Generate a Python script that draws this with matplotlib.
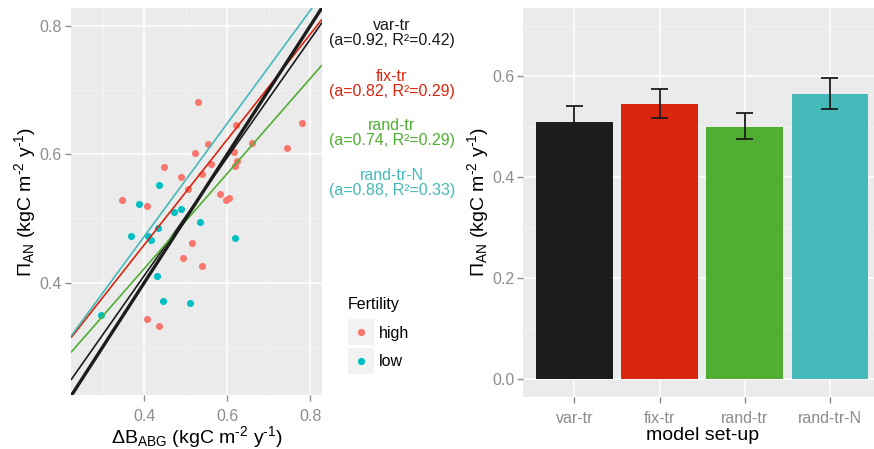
import numpy as np
import matplotlib
matplotlib.use('Agg')
import matplotlib.pyplot as plt
from matplotlib.lines import Line2D
from matplotlib.patches import Rectangle
from matplotlib.ticker import MultipleLocator

plt.rcParams['font.family'] = ['Liberation Sans', 'DejaVu Sans']
plt.rcParams['mathtext.fontset'] = 'custom'
plt.rcParams['mathtext.rm'] = 'Liberation Sans'
plt.rcParams['mathtext.it'] = 'Liberation Sans:italic'

# scatter data: delta B_ABG vs Pi_AN, by fertility class
high_x = [0.530, 0.780, 0.620, 0.660, 0.744, 0.553, 0.522, 0.615, 0.623, 0.619,
          0.561, 0.447, 0.540, 0.488, 0.506, 0.583, 0.603, 0.597, 0.347, 0.407,
          0.515, 0.494, 0.540, 0.407, 0.435]
high_y = [0.681, 0.649, 0.646, 0.617, 0.610, 0.616, 0.602, 0.604, 0.590, 0.582,
          0.585, 0.580, 0.569, 0.564, 0.546, 0.538, 0.532, 0.528, 0.528, 0.519,
          0.462, 0.438, 0.426, 0.344, 0.333]
low_x = [0.435, 0.386, 0.488, 0.472, 0.534, 0.432, 0.369, 0.408, 0.618, 0.415,
         0.431, 0.445, 0.510, 0.296]
low_y = [0.552, 0.523, 0.514, 0.510, 0.495, 0.485, 0.472, 0.473, 0.470, 0.466,
         0.411, 0.372, 0.369, 0.350]
fertility = ['high', 'low']

# regression fits per model set-up
models = ['var-tr', 'fix-tr', 'rand-tr', 'rand-tr-N']
slope = [0.92, 0.82, 0.74, 0.88]
intercept = [0.043, 0.131, 0.126, 0.120]
r2 = [0.42, 0.29, 0.29, 0.33]

# bar chart: mean Pi_AN with error bars
bar_mean = [0.508, 0.545, 0.500, 0.565]
err_low = [0.475, 0.517, 0.475, 0.535]
err_high = [0.541, 0.574, 0.526, 0.596]

model_colors = ['#1c1c1c', '#da2510', '#50ae32', '#45b9b9']
pt_colors = ['#f8766d', '#00bfc4']
bg = '#ebebeb'
tick_grey = '#8c8c8c'

W, H = 874, 449
fig = plt.figure(figsize=(W/100, H/100), dpi=100)

def px_axes(l, t, r, b):
	return fig.add_axes([l/W, 1-b/H, (r-l)/W, (b-t)/H])

def style(ax):
	ax.set_facecolor(bg)
	for s in ax.spines.values():
		s.set_visible(False)
	ax.grid(which='major', color='white', lw=1.1)
	ax.grid(which='minor', color='#f4f4f4', lw=0.6)
	ax.set_axisbelow(True)
	ax.tick_params(which='major', colors=tick_grey, labelcolor=tick_grey, labelsize=11.5, length=4, width=1, pad=2.5)
	ax.tick_params(axis='x', which='major', pad=6)
	ax.tick_params(which='minor', length=0)

ylab = r'$\Pi_{\mathrm{AN}}$ (kgC m$^{\text{-2}}$ y$^{\text{-1}}$)'

### left panel
ax1 = px_axes(71, 8, 322, 395)
style(ax1)
ax1.set_xlim(0.2234, 0.828)
ax1.set_ylim(0.225, 0.8275)
ax1.xaxis.set_major_locator(MultipleLocator(0.2))
ax1.yaxis.set_major_locator(MultipleLocator(0.2))
ax1.xaxis.set_minor_locator(MultipleLocator(0.1))
ax1.yaxis.set_minor_locator(MultipleLocator(0.1))
ax1.xaxis.set_major_formatter(matplotlib.ticker.FormatStrFormatter('%.1f'))
ax1.yaxis.set_major_formatter(matplotlib.ticker.FormatStrFormatter('%.1f'))

ax1.scatter(high_x, high_y, s=26, color=pt_colors[0], lw=0, zorder=3)
ax1.scatter(low_x, low_y, s=26, color=pt_colors[1], lw=0, zorder=3)

xs = np.array(ax1.get_xlim())
for i, m in enumerate(models):
	ax1.plot(xs, slope[i]*xs + intercept[i], color=model_colors[i], lw=1.2, zorder=4, solid_capstyle='butt')
ax1.plot(xs, xs, color='#1c1c1c', lw=2.4, zorder=4)  # 1:1 line
ax1.set_xlim(xs)

ax1.set_xlabel(r'$\Delta\mathrm{B}_{\mathrm{ABG}}$ (kgC m$^{\text{-2}}$ y$^{\text{-1}}$)', fontsize=14, labelpad=0)
ax1.set_ylabel(ylab, fontsize=14, labelpad=1)

# fit annotations
ann_y = [33, 84, 133, 183]
for i, m in enumerate(models):
	fig.text(391.7/W, 1-ann_y[i]/H, '%s\n(a=%.2f, R²=%.2f)' % (m, slope[i], r2[i]),
			 ha='center', va='center', fontsize=11.5, color=model_colors[i], linespacing=1.05)

# fertility legend
handles = [Line2D([0], [0], marker='o', ls='None', color=c, markersize=5.2, markeredgewidth=0) for c in pt_colors]
leg = fig.legend(handles, fertility, title='Fertility', loc='upper left', bbox_to_anchor=(340/W, 1-289/H),
				 frameon=False, fontsize=11.5, title_fontsize=11.5, alignment='left',
				 handlelength=1.6, handletextpad=0.35, labelspacing=0.85, borderpad=0)
fig.canvas.draw()
for h in leg.legend_handles:
	bb = h.get_window_extent(fig.canvas.get_renderer())
	cx, cy = (bb.x0+bb.x1)/2, (bb.y0+bb.y1)/2
	fig.add_artist(Rectangle(((cx-13)/W, (cy-13)/H), 26/W, 26/H, transform=fig.transFigure,
							 facecolor='#f2f2f2', edgecolor='none', zorder=0))

### right panel
ax2 = px_axes(523.3, 8, 881, 396.7)
style(ax2)
pos = np.arange(1, len(models)+1)
ax2.bar(pos, bar_mean, width=0.9, color=model_colors, zorder=2)
for i in range(len(models)):
	ax2.vlines(pos[i], err_low[i], err_high[i], color='#1c1c1c', lw=1.3, zorder=3)
	ax2.hlines([err_low[i], err_high[i]], pos[i]-0.1, pos[i]+0.1, color='#1c1c1c', lw=1.3, zorder=3)
ax2.set_xlim(0.4, 4.6)
ax2.set_ylim(-0.035, 0.7347)
ax2.set_xticks(pos)
ax2.set_xticklabels(models)
ax2.yaxis.set_major_locator(MultipleLocator(0.2))
ax2.yaxis.set_minor_locator(MultipleLocator(0.1))
ax2.yaxis.set_major_formatter(matplotlib.ticker.FormatStrFormatter('%.1f'))
ax2.set_xlabel('model set-up', fontsize=14, labelpad=1)
ax2.set_ylabel(ylab, fontsize=14, labelpad=1)

plt.savefig('out.png', dpi=100)
